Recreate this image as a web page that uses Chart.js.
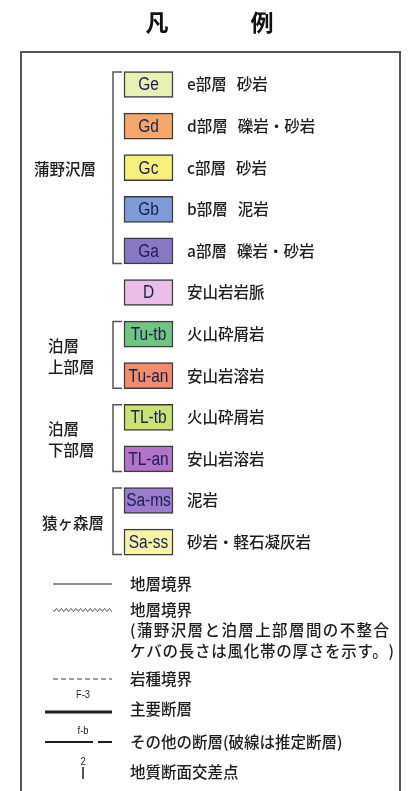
<!DOCTYPE html>
<html lang="ja">
<head>
<meta charset="utf-8">
<title>凡例</title>
<script src="https://cdn.jsdelivr.net/npm/chart.js@4.4.1/dist/chart.umd.min.js"></script>
<style>
  html, body { margin: 0; padding: 0; background: #fff; }
  #legendChart { display: block; }
</style>
</head>
<body>
<canvas id="legendChart" width="410" height="791"></canvas>
<script>
/**
 * Geological map legend (凡例) drawn with Chart.js
 * Colour swatches are floating bars, brackets and line symbols are line datasets
 */

// Map units, top to bottom
const unitCodes = ['Ge', 'Gd', 'Gc', 'Gb', 'Ga', 'D', 'Tu-tb', 'Tu-an', 'TL-tb', 'TL-an', 'Sa-ms', 'Sa-ss'];
const unitNames = [
    'e部層 砂岩', 'd部層 礫岩・砂岩', 'c部層 砂岩', 'b部層 泥岩', 'a部層 礫岩・砂岩',
    '安山岩岩脈', '火山砕屑岩', '安山岩溶岩', '火山砕屑岩', '安山岩溶岩', '泥岩', '砂岩・軽石凝灰岩'
];
const unitColors = [
    '#e9f0b6', '#f5a76b', '#f8f07c', '#7d9bd6', '#8878c4', '#e9bde6',
    '#72c482', '#f28c6c', '#c8e276', '#b373c6', '#9c7ccc', '#f7f3aa'
];

// Formations grouping the units (first / last unit index)
const groupNames = [['蒲野沢層'], ['泊層', '上部層'], ['泊層', '下部層'], ['猿ヶ森層']];
const groupFirst = [0, 6, 8, 10];
const groupLast = [4, 7, 9, 11];

// Line symbols
const symbolKinds = ['solid', 'wavy', 'dashed', 'major', 'minor', 'section'];
const symbolNames = [
    ['地層境界'],
    ['地層境界', '(蒲野沢層と泊層上部層間の不整合', 'ケバの長さは風化帯の厚さを示す。)'],
    ['岩種境界'],
    ['主要断層'],
    ['その他の断層(破線は推定断層)'],
    ['地質断面交差点']
];
const symbolTags = ['', '', '', 'F-3', 'f-b', '2'];

// Layout (pixels on a 410 x 791 page)
const PAGE_W = 410;
const PAGE_H = 791;
const ROW_TOP = 84.5;
const ROW_STEP = 41.6;
const BOX_LEFT = 124;
const BOX_RIGHT = 173;
const BOX_H = 26;
const BRACKET_X = 113;
const BRACKET_TICK = 122;
const BRACKET_PAD = 12.5;
const NAME_X = 187;
const GROUP_X = [34, 48, 48, 42];
const SYMBOL_Y = [584, 610, 679, 709, 742, 772];
const SYMBOL_X0 = 53;
const SYMBOL_X1 = 112;
const SYMBOL_TEXT_X = 130;
const NOTE_SPACING = ['0px', '1.4px', '0.75px'];
const FRAME = { left: 21, top: 52, right: 400 };

const JP_FONT = "'Noto Sans CJK JP', sans-serif";
const CODE_FONT = "'Liberation Sans', Arial, sans-serif";
const INK = '#1e1e1e';

function rowY(i) {
    return ROW_TOP + i * ROW_STEP;
}

/**
 * Build all chart datasets
 */
function buildDatasets() {
    const datasets = [];

    // Colour swatches
    datasets.push({
        type: 'bar',
        indexAxis: 'y',
        data: unitCodes.map((code, i) => ({ x: [BOX_LEFT, BOX_RIGHT], y: rowY(i) })),
        backgroundColor: unitColors,
        borderColor: '#3c3c3c',
        borderWidth: 1.5,
        borderSkipped: false,
        barThickness: BOX_H
    });

    // Formation brackets
    groupNames.forEach((name, g) => {
        const top = rowY(groupFirst[g]) - BRACKET_PAD;
        const bottom = rowY(groupLast[g]) + BRACKET_PAD;
        datasets.push(lineSet([
            { x: BRACKET_TICK, y: top },
            { x: BRACKET_X, y: top },
            { x: BRACKET_X, y: bottom },
            { x: BRACKET_TICK, y: bottom }
        ], { borderColor: '#555555', borderWidth: 1.5 }));
    });

    // Line symbols (the wavy one is drawn by the text plugin)
    symbolKinds.forEach((kind, i) => {
        const y = SYMBOL_Y[i];
        if (kind === 'solid') {
            datasets.push(lineSet([{ x: SYMBOL_X0, y }, { x: SYMBOL_X1, y }], { borderWidth: 1 }));
        } else if (kind === 'dashed') {
            datasets.push(lineSet([{ x: SYMBOL_X0, y }, { x: SYMBOL_X1, y }], {
                borderWidth: 1, borderDash: [5, 3], borderColor: '#444444'
            }));
        } else if (kind === 'major') {
            datasets.push(lineSet([{ x: 45, y: y + 3 }, { x: SYMBOL_X1, y: y + 3 }], { borderWidth: 3 }));
        } else if (kind === 'minor') {
            datasets.push(lineSet([
                { x: 45, y }, { x: 93, y }, { x: 95, y: null }, { x: 98, y }, { x: SYMBOL_X1, y }
            ], { borderWidth: 2 }));
        } else if (kind === 'section') {
            datasets.push(lineSet([{ x: 83, y: y - 5 }, { x: 83, y: y + 7 }], { borderWidth: 1.5 }));
        }
    });

    return datasets;
}

function lineSet(points, extra) {
    return Object.assign({
        type: 'line',
        data: points,
        borderColor: INK,
        borderWidth: 1,
        pointRadius: 0,
        fill: false,
        tension: 0,
        spanGaps: false
    }, extra);
}

/**
 * Draw text squeezed horizontally, centred on x
 */
function drawNarrow(ctx, text, x, y, squeeze) {
    ctx.save();
    ctx.translate(x, y);
    ctx.scale(squeeze, 1);
    ctx.textAlign = 'center';
    ctx.fillText(text, 0, 0);
    ctx.restore();
}

/**
 * Plugin for frame, title, labels and the wavy boundary symbol
 */
const legendTextPlugin = {
    id: 'legendText',
    beforeDatasetsDraw(chart) {
        const { ctx, scales } = chart;
        const px = v => scales.x.getPixelForValue(v);
        const py = v => scales.y.getPixelForValue(v);
        ctx.save();
        ctx.strokeStyle = '#555555';
        ctx.lineWidth = 2;
        ctx.beginPath();
        ctx.moveTo(px(FRAME.left), py(PAGE_H + 10));
        ctx.lineTo(px(FRAME.left), py(FRAME.top));
        ctx.lineTo(px(FRAME.right), py(FRAME.top));
        ctx.lineTo(px(FRAME.right), py(PAGE_H + 10));
        ctx.stroke();
        ctx.restore();
    },
    afterDatasetsDraw(chart) {
        const { ctx, scales } = chart;
        const px = v => scales.x.getPixelForValue(v);
        const py = v => scales.y.getPixelForValue(v);

        ctx.save();
        ctx.textBaseline = 'middle';

        // Title
        ctx.fillStyle = '#111111';
        ctx.font = `bold 23px ${JP_FONT}`;
        ctx.textAlign = 'center';
        ctx.fillText('凡', px(157), py(22));
        ctx.fillText('例', px(262), py(22));

        // Swatch codes and unit names
        unitCodes.forEach((code, i) => {
            const y = py(rowY(i));
            ctx.fillStyle = '#1d1d4f';
            ctx.font = `18px ${CODE_FONT}`;
            drawNarrow(ctx, code, px((BOX_LEFT + BOX_RIGHT) / 2), y + 1, 0.86);

            ctx.textAlign = 'left';
            ctx.fillStyle = INK;
            ctx.font = `500 15.5px ${JP_FONT}`;
            let x = px(NAME_X);
            unitNames[i].split(' ').forEach(part => {
                ctx.fillText(part, x, y);
                x += ctx.measureText(part).width + 10;
            });
        });

        // Formation names
        ctx.textAlign = 'left';
        ctx.fillStyle = INK;
        ctx.font = `500 15.5px ${JP_FONT}`;
        groupNames.forEach((lines, g) => {
            const mid = (rowY(groupFirst[g]) + rowY(groupLast[g])) / 2 + 1.5;
            lines.forEach((line, k) => {
                const y = mid + (k - (lines.length - 1) / 2) * 21;
                ctx.fillText(line, px(GROUP_X[g]), py(y));
            });
        });

        // Symbol names and tags
        symbolKinds.forEach((kind, i) => {
            ctx.textAlign = 'left';
            ctx.fillStyle = INK;
            ctx.font = `500 15.5px ${JP_FONT}`;
            symbolNames[i].forEach((line, k) => {
                ctx.letterSpacing = NOTE_SPACING[k];
                ctx.fillText(line, px(SYMBOL_TEXT_X), py(SYMBOL_Y[i] + k * 20.5));
            });
            ctx.letterSpacing = '0px';
            if (symbolTags[i]) {
                ctx.font = `11px ${CODE_FONT}`;
                const dy = kind === 'section' ? -10 : (kind === 'major' ? -14 : -11);
                drawNarrow(ctx, symbolTags[i], px(83), py(SYMBOL_Y[i] + dy), 0.85);
            }
            if (kind === 'wavy') {
                ctx.strokeStyle = '#444444';
                ctx.lineWidth = 1;
                ctx.beginPath();
                for (let x = SYMBOL_X0; x <= SYMBOL_X1; x += 0.5) {
                    const y = SYMBOL_Y[i] + 1.4 * Math.sin((x - SYMBOL_X0) / 4.8 * Math.PI * 2);
                    if (x === SYMBOL_X0) ctx.moveTo(px(x), py(y));
                    else ctx.lineTo(px(x), py(y));
                }
                ctx.stroke();
            }
        });

        ctx.restore();
    }
};

function renderLegend() {
    const ctx = document.getElementById('legendChart');
    new Chart(ctx, {
        type: 'bar',
        data: { datasets: buildDatasets() },
        options: {
            responsive: false,
            maintainAspectRatio: false,
            devicePixelRatio: 1,
            animation: false,
            layout: { padding: 0 },
            plugins: {
                legend: { display: false },
                tooltip: { enabled: false }
            },
            scales: {
                x: { type: 'linear', min: 0, max: PAGE_W, offset: false, display: false },
                y: { type: 'linear', min: 0, max: PAGE_H, reverse: true, offset: false, display: false }
            }
        },
        plugins: [legendTextPlugin]
    });
}

document.addEventListener('DOMContentLoaded', renderLegend);
</script>
</body>
</html>
